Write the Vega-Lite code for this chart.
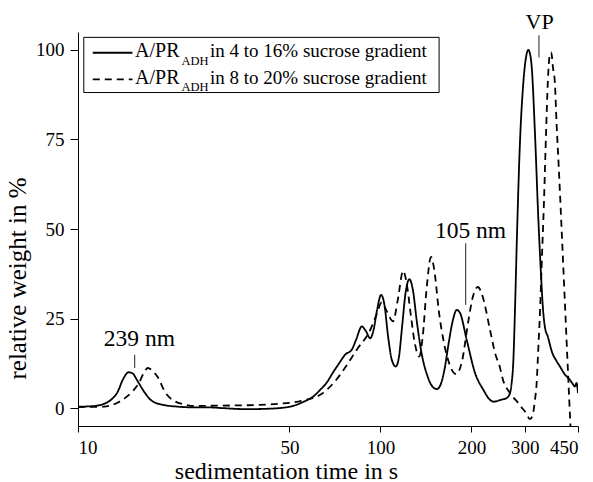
{
  "$schema": "https://vega.github.io/schema/vega-lite/v6.json",
  "width": 500,
  "height": 394,
  "autosize": {"type": "none"},
  "padding": {"left": 78, "top": 32, "right": 15, "bottom": 56},
  "background": "white",
  "config": {
    "view": {"stroke": null},
    "font": "Liberation Serif",
    "axis": {
      "domainColor": "black", "tickColor": "black", "labelColor": "black", "titleColor": "black",
      "grid": false, "labelFont": "Liberation Serif", "titleFont": "Liberation Serif",
      "labelFontSize": 19, "titleFontSize": 24, "titleFontWeight": "normal",
      "domainWidth": 1, "tickWidth": 1
    }
  },
  "datasets": {
    "curves": [
      {"t": 10, "v": 0.4, "series": "4 to 16%"},
      {"t": 11, "v": 0.5, "series": "4 to 16%"},
      {"t": 12, "v": 1.0, "series": "4 to 16%"},
      {"t": 12.8, "v": 2.2, "series": "4 to 16%"},
      {"t": 13.5, "v": 4.4, "series": "4 to 16%"},
      {"t": 14.1, "v": 8.1, "series": "4 to 16%"},
      {"t": 14.7, "v": 10.0, "series": "4 to 16%"},
      {"t": 15.2, "v": 9.6, "series": "4 to 16%"},
      {"t": 15.6, "v": 8.1, "series": "4 to 16%"},
      {"t": 16.6, "v": 4.4, "series": "4 to 16%"},
      {"t": 17.5, "v": 2.1, "series": "4 to 16%"},
      {"t": 19.1, "v": 0.9, "series": "4 to 16%"},
      {"t": 21.4, "v": 0.4, "series": "4 to 16%"},
      {"t": 24, "v": 0.2, "series": "4 to 16%"},
      {"t": 27, "v": 0.2, "series": "4 to 16%"},
      {"t": 30, "v": 0, "series": "4 to 16%"},
      {"t": 36, "v": -0.3, "series": "4 to 16%"},
      {"t": 42, "v": -0.2, "series": "4 to 16%"},
      {"t": 49.5, "v": 0.3, "series": "4 to 16%"},
      {"t": 55.5, "v": 1.7, "series": "4 to 16%"},
      {"t": 60.5, "v": 3.5, "series": "4 to 16%"},
      {"t": 63.2, "v": 5.1, "series": "4 to 16%"},
      {"t": 66, "v": 6.8, "series": "4 to 16%"},
      {"t": 70, "v": 10.2, "series": "4 to 16%"},
      {"t": 73, "v": 12.5, "series": "4 to 16%"},
      {"t": 76.4, "v": 14.9, "series": "4 to 16%"},
      {"t": 80.4, "v": 16.3, "series": "4 to 16%"},
      {"t": 83, "v": 19, "series": "4 to 16%"},
      {"t": 86.8, "v": 22.8, "series": "4 to 16%"},
      {"t": 89.5, "v": 21.5, "series": "4 to 16%"},
      {"t": 92.5, "v": 19.5, "series": "4 to 16%"},
      {"t": 95, "v": 22, "series": "4 to 16%"},
      {"t": 97.5, "v": 27.5, "series": "4 to 16%"},
      {"t": 100.5, "v": 31.6, "series": "4 to 16%"},
      {"t": 103, "v": 29, "series": "4 to 16%"},
      {"t": 106, "v": 20, "series": "4 to 16%"},
      {"t": 109, "v": 13.5, "series": "4 to 16%"},
      {"t": 112.4, "v": 11.6, "series": "4 to 16%"},
      {"t": 115, "v": 14, "series": "4 to 16%"},
      {"t": 118, "v": 23, "series": "4 to 16%"},
      {"t": 121, "v": 32, "series": "4 to 16%"},
      {"t": 124.7, "v": 36.0, "series": "4 to 16%"},
      {"t": 128, "v": 33, "series": "4 to 16%"},
      {"t": 132, "v": 24, "series": "4 to 16%"},
      {"t": 137, "v": 15, "series": "4 to 16%"},
      {"t": 143, "v": 9, "series": "4 to 16%"},
      {"t": 148, "v": 6.2, "series": "4 to 16%"},
      {"t": 153.6, "v": 5.3, "series": "4 to 16%"},
      {"t": 158, "v": 6.5, "series": "4 to 16%"},
      {"t": 163, "v": 11, "series": "4 to 16%"},
      {"t": 168, "v": 18, "series": "4 to 16%"},
      {"t": 173, "v": 24, "series": "4 to 16%"},
      {"t": 178.8, "v": 27.4, "series": "4 to 16%"},
      {"t": 183.4, "v": 26.5, "series": "4 to 16%"},
      {"t": 192.9, "v": 19, "series": "4 to 16%"},
      {"t": 205.5, "v": 9.8, "series": "4 to 16%"},
      {"t": 218.9, "v": 5.1, "series": "4 to 16%"},
      {"t": 230.3, "v": 2.3, "series": "4 to 16%"},
      {"t": 236.2, "v": 1.8, "series": "4 to 16%"},
      {"t": 250, "v": 2.3, "series": "4 to 16%"},
      {"t": 261.5, "v": 2.8, "series": "4 to 16%"},
      {"t": 268.2, "v": 4.2, "series": "4 to 16%"},
      {"t": 271.5, "v": 7, "series": "4 to 16%"},
      {"t": 275, "v": 13, "series": "4 to 16%"},
      {"t": 278.1, "v": 25.5, "series": "4 to 16%"},
      {"t": 282.9, "v": 48.8, "series": "4 to 16%"},
      {"t": 288.6, "v": 72, "series": "4 to 16%"},
      {"t": 296.7, "v": 90.7, "series": "4 to 16%"},
      {"t": 303, "v": 98, "series": "4 to 16%"},
      {"t": 308.2, "v": 100, "series": "4 to 16%"},
      {"t": 313, "v": 98.5, "series": "4 to 16%"},
      {"t": 316.3, "v": 95.3, "series": "4 to 16%"},
      {"t": 324.3, "v": 76.7, "series": "4 to 16%"},
      {"t": 332.5, "v": 53.4, "series": "4 to 16%"},
      {"t": 338.5, "v": 39.5, "series": "4 to 16%"},
      {"t": 344.9, "v": 27.4, "series": "4 to 16%"},
      {"t": 350, "v": 22.5, "series": "4 to 16%"},
      {"t": 357.5, "v": 20, "series": "4 to 16%"},
      {"t": 370.4, "v": 15.3, "series": "4 to 16%"},
      {"t": 380, "v": 13.5, "series": "4 to 16%"},
      {"t": 392.2, "v": 11.6, "series": "4 to 16%"},
      {"t": 408, "v": 9.3, "series": "4 to 16%"},
      {"t": 423, "v": 7.9, "series": "4 to 16%"},
      {"t": 432, "v": 6.8, "series": "4 to 16%"},
      {"t": 439.5, "v": 6, "series": "4 to 16%"},
      {"t": 445, "v": 7, "series": "4 to 16%"},
      {"t": 450, "v": 4.2, "series": "4 to 16%"},
      {"t": 10, "v": 0.3, "series": "8 to 20%"},
      {"t": 12.2, "v": 0.4, "series": "8 to 20%"},
      {"t": 13.5, "v": 1.5, "series": "8 to 20%"},
      {"t": 14.5, "v": 3.2, "series": "8 to 20%"},
      {"t": 15.2, "v": 4.8, "series": "8 to 20%"},
      {"t": 15.9, "v": 7, "series": "8 to 20%"},
      {"t": 16.5, "v": 9.8, "series": "8 to 20%"},
      {"t": 17.0, "v": 11.2, "series": "8 to 20%"},
      {"t": 17.6, "v": 10.5, "series": "8 to 20%"},
      {"t": 18.3, "v": 8.8, "series": "8 to 20%"},
      {"t": 19.5, "v": 4.2, "series": "8 to 20%"},
      {"t": 21, "v": 1.8, "series": "8 to 20%"},
      {"t": 22.5, "v": 1.0, "series": "8 to 20%"},
      {"t": 24.1, "v": 0.6, "series": "8 to 20%"},
      {"t": 30, "v": 0.7, "series": "8 to 20%"},
      {"t": 40, "v": 0.9, "series": "8 to 20%"},
      {"t": 46, "v": 1.2, "series": "8 to 20%"},
      {"t": 51.6, "v": 1.6, "series": "8 to 20%"},
      {"t": 56, "v": 2.2, "series": "8 to 20%"},
      {"t": 63.2, "v": 3.7, "series": "8 to 20%"},
      {"t": 70, "v": 7, "series": "8 to 20%"},
      {"t": 75.6, "v": 10.7, "series": "8 to 20%"},
      {"t": 83.5, "v": 16.3, "series": "8 to 20%"},
      {"t": 92.5, "v": 21.8, "series": "8 to 20%"},
      {"t": 97, "v": 26, "series": "8 to 20%"},
      {"t": 101, "v": 29.5, "series": "8 to 20%"},
      {"t": 105, "v": 27, "series": "8 to 20%"},
      {"t": 110.1, "v": 24.2, "series": "8 to 20%"},
      {"t": 114, "v": 30, "series": "8 to 20%"},
      {"t": 118.9, "v": 38.3, "series": "8 to 20%"},
      {"t": 122, "v": 35, "series": "8 to 20%"},
      {"t": 126, "v": 26, "series": "8 to 20%"},
      {"t": 130, "v": 18, "series": "8 to 20%"},
      {"t": 134.3, "v": 14.4, "series": "8 to 20%"},
      {"t": 138, "v": 20, "series": "8 to 20%"},
      {"t": 142, "v": 33, "series": "8 to 20%"},
      {"t": 147, "v": 42.2, "series": "8 to 20%"},
      {"t": 151, "v": 38, "series": "8 to 20%"},
      {"t": 156, "v": 27, "series": "8 to 20%"},
      {"t": 161.5, "v": 19, "series": "8 to 20%"},
      {"t": 168, "v": 13, "series": "8 to 20%"},
      {"t": 178, "v": 9.5, "series": "8 to 20%"},
      {"t": 186, "v": 13, "series": "8 to 20%"},
      {"t": 195, "v": 24, "series": "8 to 20%"},
      {"t": 202, "v": 31, "series": "8 to 20%"},
      {"t": 210, "v": 33.8, "series": "8 to 20%"},
      {"t": 218, "v": 31, "series": "8 to 20%"},
      {"t": 230.3, "v": 21.8, "series": "8 to 20%"},
      {"t": 240, "v": 15, "series": "8 to 20%"},
      {"t": 247.9, "v": 11.6, "series": "8 to 20%"},
      {"t": 255, "v": 7.5, "series": "8 to 20%"},
      {"t": 263.6, "v": 5.1, "series": "8 to 20%"},
      {"t": 275, "v": 3, "series": "8 to 20%"},
      {"t": 285.6, "v": 1.4, "series": "8 to 20%"},
      {"t": 294, "v": 0, "series": "8 to 20%"},
      {"t": 303.5, "v": -1.4, "series": "8 to 20%"},
      {"t": 312, "v": -3.1, "series": "8 to 20%"},
      {"t": 318, "v": -2.2, "series": "8 to 20%"},
      {"t": 324.3, "v": 2.3, "series": "8 to 20%"},
      {"t": 328.5, "v": 7, "series": "8 to 20%"},
      {"t": 332.5, "v": 16.3, "series": "8 to 20%"},
      {"t": 337, "v": 27, "series": "8 to 20%"},
      {"t": 341.1, "v": 39.5, "series": "8 to 20%"},
      {"t": 347.4, "v": 58, "series": "8 to 20%"},
      {"t": 352.8, "v": 76.7, "series": "8 to 20%"},
      {"t": 357.5, "v": 90.7, "series": "8 to 20%"},
      {"t": 363.6, "v": 99, "series": "8 to 20%"},
      {"t": 367, "v": 99.3, "series": "8 to 20%"},
      {"t": 372, "v": 95, "series": "8 to 20%"},
      {"t": 377.5, "v": 90.7, "series": "8 to 20%"},
      {"t": 382, "v": 80, "series": "8 to 20%"},
      {"t": 388.6, "v": 67.4, "series": "8 to 20%"},
      {"t": 400, "v": 44.2, "series": "8 to 20%"},
      {"t": 411.5, "v": 20.9, "series": "8 to 20%"},
      {"t": 421, "v": 2.3, "series": "8 to 20%"},
      {"t": 425, "v": -5.2, "series": "8 to 20%"}
    ]
  },
  "layer": [
    {
      "data": {"name": "curves"},
      "mark": {"type": "line", "color": "black", "strokeWidth": 1.8, "clip": true, "interpolate": "monotone"},
      "encoding": {
        "x": {
          "field": "t", "type": "quantitative",
          "scale": {"type": "log", "domain": [10, 450], "nice": false},
          "axis": {"values": [10, 50, 100, 200, 300, 450], "format": "d", "tickSize": 6, "labelPadding": 6,
                   "title": "sedimentation time in s", "titleX": 208, "titleY": 52, "titleBaseline": "alphabetic"}
        },
        "y": {
          "field": "v", "type": "quantitative",
          "scale": {"domain": [-5, 105], "nice": false, "zero": false},
          "axis": {"values": [0, 25, 50, 75, 100], "tickSize": 8, "labelPadding": 6,
                   "title": "relative weight in %", "titleX": -53, "titleY": 246, "titleBaseline": "alphabetic", "titleFontSize": 25}
        },
        "detail": {"field": "series"},
        "strokeDash": {
          "field": "series", "type": "nominal",
          "scale": {"domain": ["4 to 16%", "8 to 20%"], "range": [[1, 0], [7, 5]]},
          "legend": null
        }
      }
    },
    {
      "data": {"values": [{}]},
      "mark": {"type": "rule", "color": "#222", "strokeWidth": 1},
      "encoding": {"x": {"datum": 15.4}, "y": {"datum": 11.2}, "y2": {"datum": 14.9}}
    },
    {
      "data": {"values": [{}]},
      "mark": {"type": "text", "text": "239 nm", "fontSize": 23.5, "align": "center", "baseline": "alphabetic", "color": "black"},
      "encoding": {"x": {"datum": 15.96}, "y": {"datum": 17.2}}
    },
    {
      "data": {"values": [{}]},
      "mark": {"type": "rule", "color": "#222", "strokeWidth": 1},
      "encoding": {"x": {"datum": 191.4}, "y": {"datum": 28.8}, "y2": {"datum": 46}}
    },
    {
      "data": {"values": [{}]},
      "mark": {"type": "text", "text": "105 nm", "fontSize": 23.5, "align": "center", "baseline": "alphabetic", "color": "black"},
      "encoding": {"x": {"datum": 198.6}, "y": {"datum": 47.4}}
    },
    {
      "data": {"values": [{}]},
      "mark": {"type": "rule", "color": "#222", "strokeWidth": 1},
      "encoding": {"x": {"datum": 334.3}, "y": {"datum": 97.9}, "y2": {"datum": 104.1}}
    },
    {
      "data": {"values": [{}]},
      "mark": {"type": "text", "text": "VP", "fontSize": 22, "align": "center", "baseline": "alphabetic", "color": "black"},
      "encoding": {"x": {"datum": 336}, "y": {"datum": 105.7}}
    },
    {
      "data": {"values": [{}]},
      "mark": {"type": "rect", "fill": "white", "stroke": "black", "strokeWidth": 1},
      "encoding": {"x": {"datum": 10.45}, "x2": {"datum": 156.3}, "y": {"datum": 103.5}, "y2": {"datum": 88.1}}
    },
    {
      "data": {"values": [{}]},
      "mark": {"type": "rule", "color": "black", "strokeWidth": 1.8},
      "encoding": {"x": {"datum": 11.19}, "x2": {"datum": 15.14}, "y": {"datum": 99.2}}
    },
    {
      "data": {"values": [{}]},
      "mark": {"type": "rule", "color": "black", "strokeWidth": 1.8, "strokeDash": [7, 5]},
      "encoding": {"x": {"datum": 11.19}, "x2": {"datum": 15.14}, "y": {"datum": 91.8}}
    },
    {
      "data": {"values": [{}]},
      "mark": {"type": "text", "text": "A/PR", "fontSize": 20, "align": "left", "baseline": "alphabetic", "color": "black"},
      "encoding": {"x": {"datum": 15.44}, "y": {"datum": 97.96}}
    },
    {
      "data": {"values": [{}]},
      "mark": {"type": "text", "text": "ADH", "fontSize": 12.5, "align": "left", "baseline": "alphabetic", "color": "black"},
      "encoding": {"x": {"datum": 22.0}, "y": {"datum": 95.8}}
    },
    {
      "data": {"values": [{}]},
      "mark": {"type": "text", "text": "in 4 to 16% sucrose gradient", "fontSize": 19, "align": "left", "baseline": "alphabetic", "color": "black"},
      "encoding": {"x": {"datum": 27.32}, "y": {"datum": 97.96}}
    },
    {
      "data": {"values": [{}]},
      "mark": {"type": "text", "text": "A/PR", "fontSize": 20, "align": "left", "baseline": "alphabetic", "color": "black"},
      "encoding": {"x": {"datum": 15.44}, "y": {"datum": 90.5}}
    },
    {
      "data": {"values": [{}]},
      "mark": {"type": "text", "text": "ADH", "fontSize": 12.5, "align": "left", "baseline": "alphabetic", "color": "black"},
      "encoding": {"x": {"datum": 22.0}, "y": {"datum": 88.6}}
    },
    {
      "data": {"values": [{}]},
      "mark": {"type": "text", "text": "in 8 to 20% sucrose gradient", "fontSize": 19, "align": "left", "baseline": "alphabetic", "color": "black"},
      "encoding": {"x": {"datum": 27.32}, "y": {"datum": 90.5}}
    }
  ]
}
